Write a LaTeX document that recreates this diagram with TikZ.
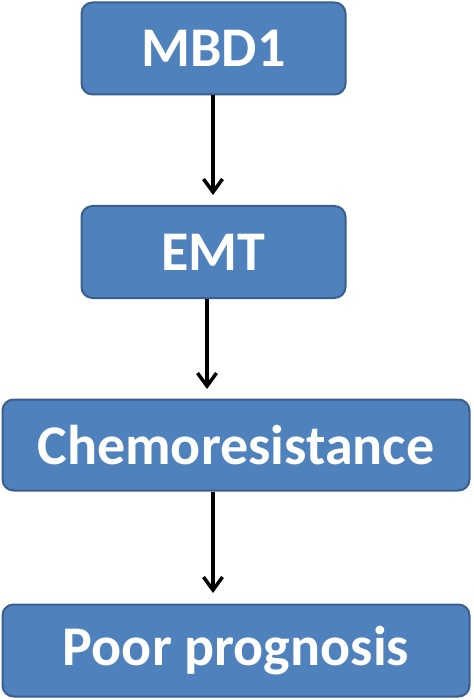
\documentclass[tikz,border=0pt]{standalone}
\usepackage{fontspec}
\setmainfont{Carlito}
\usetikzlibrary{arrows.meta}
\definecolor{boxfill}{HTML}{4F81BD}
\definecolor{boxline}{HTML}{3A5F8C}
\begin{document}
\begin{tikzpicture}[x=1pt,y=-1pt,
  box/.style={draw=boxline, fill=boxfill, line width=2pt, rounded corners=11pt,
    text=white, font=\fontsize{56}{64}\selectfont\bfseries, inner sep=0pt},
  link/.style={line width=3.5pt, -{Straight Barb[length=13pt,width=19pt,line width=3.5pt]}}]
\useasboundingbox (0,0) rectangle (473,700);
\node[box, minimum width=264pt, minimum height=92pt] (mbd) at (213.5,48.5) {MBD1};
\node[box, minimum width=264pt, minimum height=92pt] (emt) at (213.5,252) {EMT};
\node[box, minimum width=467pt, minimum height=91pt] (chemo) at (236,445) {Chemoresistance};
\node[box, minimum width=467pt, minimum height=92pt] (poor) at (236,650.5) {Poor prognosis};
\coordinate (t1) at (213,195);
\coordinate (t2) at (207,389);
\coordinate (t3) at (213,593);
\draw[link] (mbd.south -| t1) -- (t1);
\draw[link] (emt.south -| t2) -- (t2);
\draw[link] (chemo.south -| t3) -- (t3);
\end{tikzpicture}
\end{document}
